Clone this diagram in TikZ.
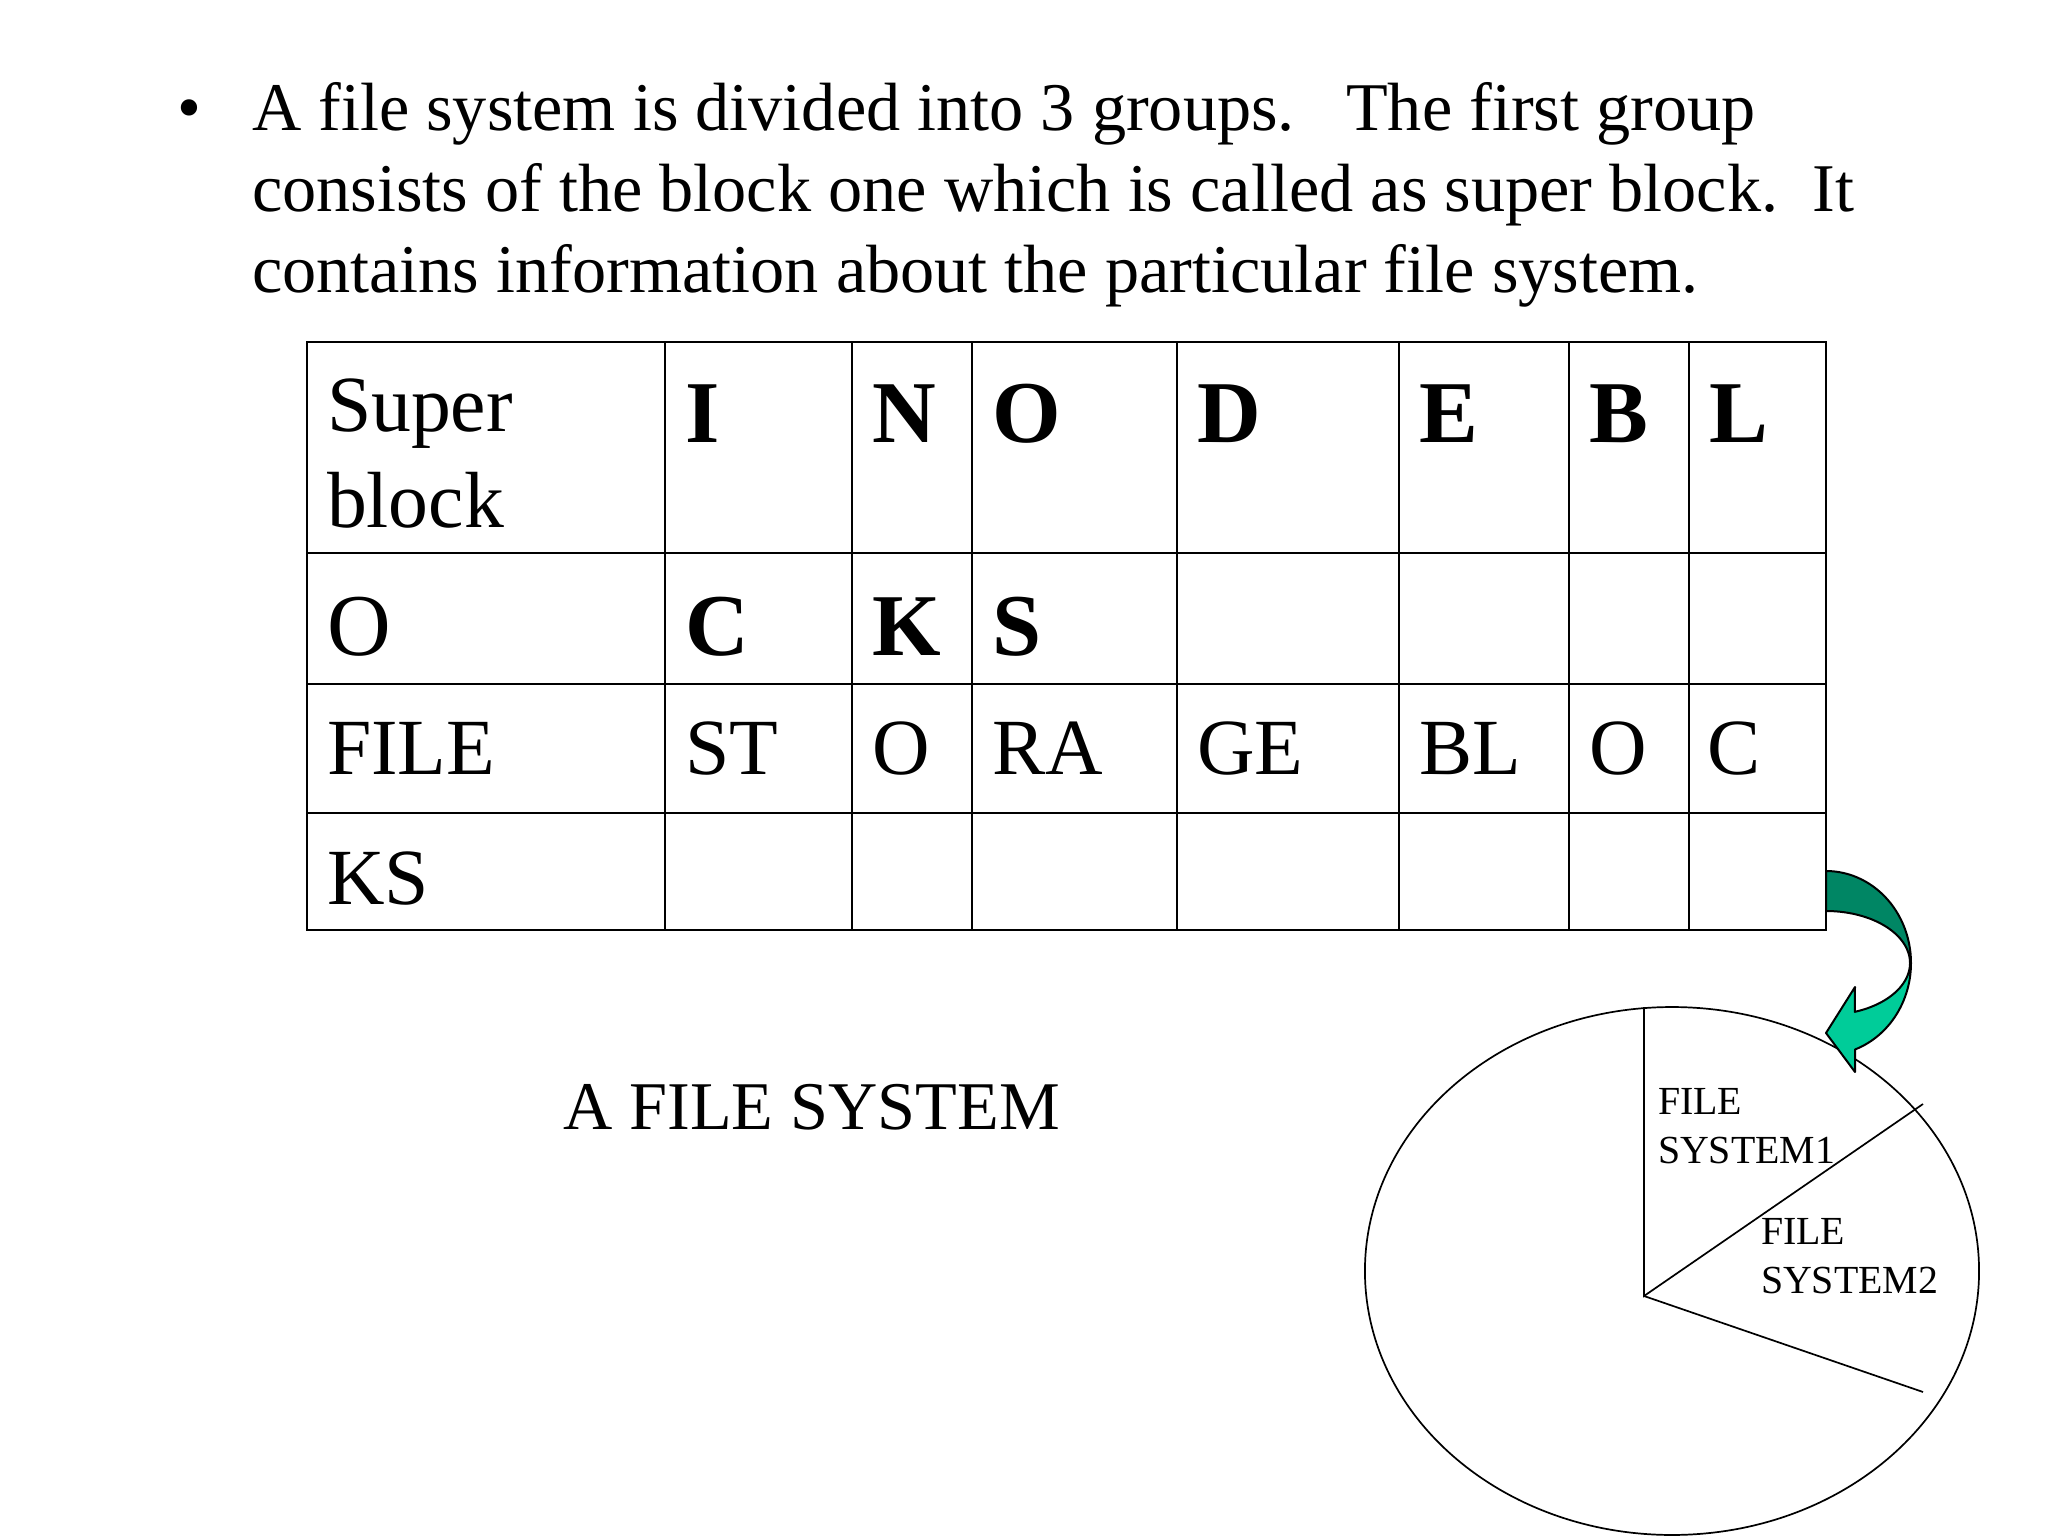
\documentclass[tikz,border=0pt]{standalone}
\usepackage{fontspec}
\setmainfont{Liberation Serif}
\usetikzlibrary{shapes.geometric}
\definecolor{arrowdark}{RGB}{0,134,100}
\definecolor{arrowlight}{RGB}{0,204,153}
\begin{document}
\begin{tikzpicture}[x=0.3515625bp, y=-0.3515625bp,
  txt/.style={anchor=base west, inner sep=0pt, outer sep=0pt},
  bodytxt/.style={txt, align=left, font=\fontsize{24bp}{28.5bp}\selectfont},
  celltxt/.style={txt, align=left, font=\fontsize{28bp}{33.4bp}\selectfont},
  bigtxt/.style={txt, font=\fontsize{31bp}{37bp}\selectfont},
  boldtxt/.style={txt, font=\fontsize{31bp}{37bp}\selectfont\bfseries},
  pietxt/.style={txt, align=left, font=\fontsize{14bp}{16.9bp}\selectfont},
  gridline/.style={line width=0.4bp, black},
  frame/.style={line width=0.9bp, black},
  pieline/.style={line width=0.6bp, black},
  arrowpart/.style={line width=0.7bp, draw=black, line join=round}]
\useasboundingbox (0,0) rectangle (2048,1536);
\fill[white] (0,0) rectangle (2048,1536);

% bullet text (multi-line nodes are anchored at the baseline of their last line)
\node[txt, font=\fontsize{24bp}{28.5bp}\selectfont] (bullet) at (177,131) {\textbullet};
\node[bodytxt] (intro) at (252,293) {A file system is divided into 3 groups.\ \ \ The first group\\
consists of the block one which is called as super block.\ \ It\\
contains information about the particular file system.};

% table grid
\foreach \x in {665,852,972,1177,1399,1569,1689}
  \draw[gridline] (\x,342) -- (\x,930);
\foreach \y in {553,684,813}
  \draw[gridline] (307,\y) -- (1826,\y);
\draw[frame] (307,342) rectangle (1826,930);

% row 1
\node[celltxt] (superblock) at (327,527) {Super\\block};
\node[boldtxt] (r1c2) at (685,442) {I};
\node[boldtxt] (r1c3) at (872,442) {N};
\node[boldtxt] (r1c4) at (992,442) {O};
\node[boldtxt] (r1c5) at (1197,442) {D};
\node[boldtxt] (r1c6) at (1419,442) {E};
\node[boldtxt] (r1c7) at (1589,442) {B};
\node[boldtxt] (r1c8) at (1709,442) {L};
% row 2
\node[bigtxt] (r2c1) at (327,655) {O};
\node[boldtxt] (r2c2) at (685,655) {C};
\node[boldtxt] (r2c3) at (872,655) {K};
\node[boldtxt] (r2c4) at (992,655) {S};
% row 3
\node[celltxt] (r3c1) at (327,774) {FILE};
\node[celltxt] (r3c2) at (685,774) {ST};
\node[celltxt] (r3c3) at (872,774) {O};
\node[celltxt] (r3c4) at (992,774) {RA};
\node[celltxt] (r3c5) at (1197,774) {GE};
\node[celltxt] (r3c6) at (1419,774) {BL};
\node[celltxt] (r3c7) at (1589,774) {O};
\node[celltxt] (r3c8) at (1707,774) {C};
% row 4
\node[celltxt] (r4c1) at (327,904) {KS};

% caption
\node[bodytxt] (caption) at (563,1129) {A FILE SYSTEM};

% pie
\node[draw, pieline, ellipse, inner sep=0pt, minimum width=215.9bp, minimum height=185.6bp] (disk) at (1672,1271) {};
\coordinate (hub) at (1644,1296);
\coordinate (top) at (1644,1007);
\coordinate (upper) at (1923,1104);
\coordinate (lower) at (1923,1392);
\draw[pieline] (top) -- (hub) -- (upper);
\draw[pieline] (hub) -- (lower);
\node[pietxt] (fs1) at (1658,1163) {FILE\\SYSTEM1};
\node[pietxt] (fs2) at (1761,1293) {FILE\\SYSTEM2};

% curved arrow
\filldraw[arrowpart, fill=arrowdark]
  plot[domain=-90:0, samples=30, variable=\t] ({1826+85*cos(\t)},{963+92*sin(\t)})
  -- plot[domain=0:-90, samples=30, variable=\t] ({1826+84*cos(\t)},{963+52*sin(\t)})
  -- cycle;
\filldraw[arrowpart, fill=arrowlight]
  plot[domain=0:70, samples=30, variable=\t] ({1826+85*cos(\t)},{963+92*sin(\t)})
  -- (1855,1072) -- (1826,1033) -- (1855,987)
  -- plot[domain=70:0, samples=30, variable=\t] ({1826+84*cos(\t)},{963+52*sin(\t)})
  -- cycle;
\end{tikzpicture}
\end{document}
